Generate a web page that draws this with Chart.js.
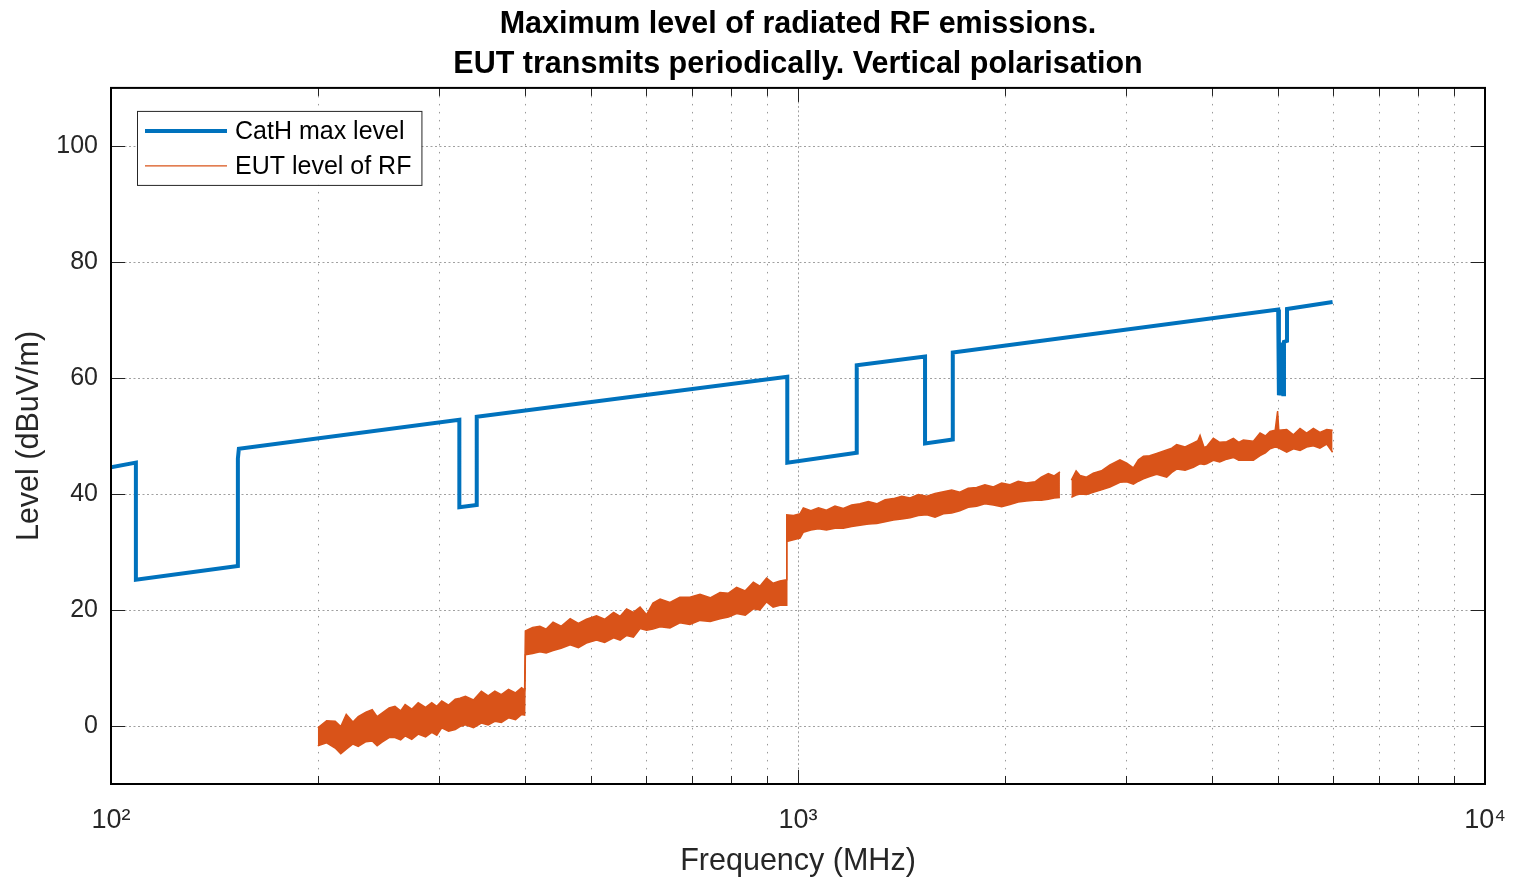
<!DOCTYPE html>
<html>
<head>
<meta charset="utf-8">
<title>Maximum level of radiated RF emissions</title>
<script src="https://cdn.jsdelivr.net/npm/chart.js@4.4.1/dist/chart.umd.min.js"></script>
<style>
    html, body { margin: 0; padding: 0; background: #fff; }
    #wrap { width: 1513px; height: 881px; }
</style>
</head>
<body>
<div id="wrap"><canvas id="chart" width="1513" height="881"></canvas></div>
<script>
// CatH max level (limit line), frequency in MHz / level in dBuV/m
const catHFreq  = [100, 108.7, 108.7, 153, 153, 153.5, 321.4, 321.4, 340.7, 340.7, 964.7, 964.7, 1217.6, 1217.6, 1530.8, 1530.8, 1680, 1680,
                   5000, 5012, 5025, 5038, 5050, 5062, 5075, 5087, 5098, 5098, 5150, 5150, 6000];
const catHLevel = [44.6, 45.4, 25.2, 27.6, 46.1, 47.8, 52.8, 37.7, 38.1, 53.3, 60.2, 45.4, 47.1, 62.2, 63.7, 48.7, 49.4, 64.4,
                   71.8, 57.0, 66.0, 57.0, 66.0, 57.1, 66.1, 57.2, 57.2, 66.2, 66.4, 71.9, 73.1];

// EUT measured level: upper / lower edge of the noisy trace (null = no measurement)
const eutFreq = [
    200, 206, 212, 216, 220, 225, 229, 235, 240, 244, 248, 254, 259, 264, 268, 274, 280, 287, 293, 298,
    303, 310, 317, 322, 328, 337, 346, 354, 362, 370, 379, 388, 396, 400,
    401, 411, 421, 430, 440, 452, 466, 479, 492, 509, 523, 539, 551, 563, 576, 589, 602, 615, 630, 651,
    673, 696, 720, 745, 770, 792, 814, 838, 861, 880, 900, 920, 941, 962,
    963, 985, 1007, 1018, 1044, 1071, 1100, 1132, 1164, 1197, 1231, 1266, 1302, 1339, 1377, 1416, 1456, 1497,
    1540, 1583, 1628, 1674, 1720, 1769, 1820, 1871, 1925, 1979, 2035, 2092, 2150, 2213, 2260, 2314, 2360, 2406,
    2450,
    2500, 2540, 2573, 2630, 2690, 2765, 2845, 2942, 3010, 3077, 3130, 3183, 3250, 3327, 3441, 3500, 3558, 3660,
    3763, 3820, 3848, 3900, 3935, 4023, 4110, 4208, 4303, 4380, 4449, 4601, 4705, 4790, 4866, 4950, 4990, 5010,
    5145, 5262, 5380, 5500, 5626, 5750, 5883, 6000
];
const eutUpper = [
    -0.3, 0.9, 0.8, -0.1, 2.0, 0.7, 1.6, 2.4, 2.8, 1.6, 2.2, 3.1, 3.4, 2.6, 3.7, 2.9, 4.0, 3.2, 4.0, 3.4,
    4.3, 3.6, 4.6, 4.8, 5.1, 4.5, 6.0, 5.2, 6.0, 5.4, 6.3, 5.7, 6.6, 6.2,
    16.4, 17.0, 17.2, 16.7, 17.9, 17.2, 18.5, 17.7, 18.4, 19.0, 18.4, 19.6, 18.9, 20.2, 19.6, 20.5, 19.2, 21.2, 21.9, 21.3,
    22.2, 22.2, 22.7, 22.1, 23.0, 22.9, 23.9, 23.3, 24.8, 24.1, 25.5, 24.6, 25.0, 25.2,
    36.4, 36.3, 36.6, 37.6, 37.1, 37.6, 37.2, 37.9, 37.5, 38.1, 38.3, 38.7, 38.3, 39.0, 39.2, 39.6, 39.3, 39.9,
    39.6, 40.1, 40.4, 40.7, 40.3, 41.0, 41.1, 41.6, 41.2, 41.9, 41.6, 42.2, 41.9, 42.1, 42.9, 43.5, 43.1, 43.8,
    null,
    42.4, 44.0, 43.2, 42.9, 43.6, 44.0, 45.0, 45.9, 45.3, 44.5, 45.9, 46.5, 46.6, 47.0, 47.6, 47.9, 48.5, 48.1,
    48.8, 49.2, 50.1, 48.0, 48.2, 49.6, 48.9, 49.0, 49.6, 48.9, 49.3, 49.1, 50.5, 50.0, 50.8, 51.0, 54.3, 51.0,
    51.1, 50.2, 51.3, 50.5, 51.3, 50.6, 51.1, 51.0
];
const eutLower = [
    -3.4, -2.9, -3.8, -4.8, -4.0, -3.1, -3.5, -2.7, -2.6, -3.4, -2.8, -2.0, -2.0, -2.4, -1.7, -2.3, -1.4, -1.9, -1.1, -1.6,
    -0.3, -0.9, -0.6, -0.1, 0.2, -0.3, 0.5, 0.2, 0.8, 0.6, 1.4, 1.1, 2.0, 1.9,
    12.3, 12.5, 12.8, 12.6, 13.0, 13.4, 14.0, 13.5, 14.3, 14.8, 14.4, 15.2, 14.8, 15.6, 15.3, 16.8, 16.5, 16.7, 17.1, 16.9,
    17.8, 17.5, 18.2, 18.0, 18.5, 18.8, 19.4, 19.1, 20.2, 20.0, 21.4, 20.5, 20.8, 20.8,
    31.8, 32.1, 32.4, 33.4, 33.8, 34.0, 33.8, 34.1, 34.1, 34.4, 34.6, 34.8, 34.9, 35.2, 35.5, 35.7, 35.9, 36.3,
    36.4, 36.0, 36.6, 36.7, 37.1, 37.7, 37.9, 38.3, 38.1, 37.8, 38.2, 38.6, 38.8, 38.9, 38.9, 39.1, 39.3, 39.4,
    null,
    39.4, 39.8, 40.0, 39.9, 40.3, 40.7, 41.2, 42.0, 42.1, 41.7, 42.2, 42.6, 43.0, 43.4, 42.9, 43.7, 44.3, 44.1,
    44.6, 45.0, 45.2, 45.1, 45.2, 45.8, 45.5, 46.0, 46.3, 45.8, 45.8, 45.8, 46.6, 47.1, 47.8, 48.1, 48.0, 47.9,
    47.2, 47.8, 47.5, 48.1, 48.3, 47.9, 48.6, 47.2
];

// axes
const xMajor = [100, 1000, 10000];
const xMinor = [200, 300, 400, 500, 600, 700, 800, 900, 2000, 3000, 4000, 5000, 6000, 7000, 8000, 9000];
const yTicks = [0, 20, 40, 60, 80, 100];
const supDigits = {2: '\u00B2', 3: '\u00B3', 4: '\u2074'};

const blue = '#0072BD';
const orange = '#D95319';
const fontFamily = '"Liberation Sans", Arial, Helvetica, sans-serif';

function toPoints(xs, ys) {
    return xs.map(function (v, i) { return {x: v, y: ys[i]}; });
}

// grid lines, box, inward ticks and the legend (drawn the matlab way)
const axesDecor = {
    id: 'axesDecor',
    beforeDatasetsDraw(chart) {
        const ctx = chart.ctx, a = chart.chartArea, x = chart.scales.x, y = chart.scales.y;
        ctx.save();
        ctx.lineWidth = 1;
        //minor x grid
        ctx.strokeStyle = '#999';
        ctx.setLineDash([1.5, 6.5]);
        xMinor.forEach(function (v) {
            let px = Math.round(x.getPixelForValue(v)) + 0.5;
            ctx.beginPath(); ctx.moveTo(px, a.top); ctx.lineTo(px, a.bottom); ctx.stroke();
        });
        //major grid
        ctx.strokeStyle = '#a0a0a0';
        ctx.setLineDash([2, 2.5]);
        xMajor.forEach(function (v) {
            let px = Math.round(x.getPixelForValue(v)) + 0.5;
            ctx.beginPath(); ctx.moveTo(px, a.top); ctx.lineTo(px, a.bottom); ctx.stroke();
        });
        yTicks.forEach(function (v) {
            let py = Math.round(y.getPixelForValue(v)) + 0.5;
            ctx.beginPath(); ctx.moveTo(a.left, py); ctx.lineTo(a.right, py); ctx.stroke();
        });
        ctx.restore();
    },
    afterDraw(chart) {
        const ctx = chart.ctx, a = chart.chartArea, x = chart.scales.x, y = chart.scales.y;
        ctx.save();
        //ticks
        ctx.strokeStyle = '#222';
        ctx.lineWidth = 1;
        const tick = function (x1, y1, x2, y2) {
            ctx.beginPath(); ctx.moveTo(x1, y1); ctx.lineTo(x2, y2); ctx.stroke();
        };
        yTicks.forEach(function (v) {
            let py = Math.round(y.getPixelForValue(v)) + 0.5;
            tick(a.left, py, a.left + 14, py);
            tick(a.right, py, a.right - 14, py);
        });
        xMajor.forEach(function (v) {
            let px = Math.round(x.getPixelForValue(v)) + 0.5;
            tick(px, a.bottom, px, a.bottom - 14);
            tick(px, a.top, px, a.top + 14);
        });
        xMinor.forEach(function (v) {
            let px = Math.round(x.getPixelForValue(v)) + 0.5;
            tick(px, a.bottom, px, a.bottom - 8);
            tick(px, a.top, px, a.top + 8);
        });
        //box
        ctx.strokeStyle = '#000';
        ctx.lineWidth = 2;
        ctx.strokeRect(a.left, a.top, a.right - a.left, a.bottom - a.top);
        //legend
        const items = [chart.data.datasets[0], chart.data.datasets[1]];
        ctx.font = '25px ' + fontFamily;
        let textW = Math.max.apply(null, items.map(function (d) { return ctx.measureText(d.label).width; }));
        let lx = a.left + 26, ly = a.top + 23;
        let lw = 100 + textW + 8, lh = 74;
        ctx.fillStyle = '#fff';
        ctx.fillRect(lx, ly, lw, lh);
        ctx.strokeStyle = '#262626';
        ctx.lineWidth = 1;
        ctx.strokeRect(lx + 0.5, ly + 0.5, lw, lh);
        items.forEach(function (d, i) {
            let cy = ly + 20 + i * 35;
            ctx.strokeStyle = d.borderColor;
            ctx.lineWidth = i === 0 ? 4 : 1.2;
            ctx.beginPath(); ctx.moveTo(lx + 8, cy); ctx.lineTo(lx + 90, cy); ctx.stroke();
            ctx.fillStyle = '#000';
            ctx.textBaseline = 'middle';
            ctx.fillText(d.label, lx + 98, cy + 1);
        });
        ctx.restore();
    }
};

let ctx = document.getElementById('chart');
let myChart = new Chart(ctx, {
    type: 'line',
    data: {
        datasets: [{
            label: 'CatH max level',
            data: toPoints(catHFreq, catHLevel),
            borderColor: blue,
            borderWidth: 4,
            pointRadius: 0,
            fill: false
        }, {
            label: 'EUT level of RF',
            data: toPoints(eutFreq, eutUpper),
            borderColor: orange,
            backgroundColor: orange,
            borderWidth: 1.5,
            pointRadius: 0,
            spanGaps: false,
            fill: '+1'
        }, {
            label: 'EUT level of RF (lower)',
            data: toPoints(eutFreq, eutLower),
            borderColor: orange,
            borderWidth: 1.5,
            pointRadius: 0,
            spanGaps: false,
            fill: false
        }]
    },
    options: {
        responsive: false,
        animation: false,
        devicePixelRatio: 1,
        layout: {padding: {left: 0, right: 28, top: 0, bottom: 0}},
        plugins: {
            legend: {display: false},
            tooltip: {enabled: false},
            title: {
                display: true,
                fullSize: false,
                text: ['Maximum level of radiated RF emissions.', 'EUT transmits periodically. Vertical polarisation'],
                color: '#000',
                font: {family: fontFamily, size: 30.5, weight: 'bold', lineHeight: 1.31},
                padding: {top: 5, bottom: 3}
            }
        },
        scales: {
            x: {
                type: 'logarithmic',
                min: 100,
                max: 10000,
                grid: {display: false, drawTicks: false},
                border: {display: false},
                afterBuildTicks: function (scale) {
                    scale.ticks = xMajor.map(function (v) { return {value: v, major: true}; });
                },
                afterFit: function (scale) {
                    scale.height = 97;
                    scale.paddingLeft = 0;
                    scale.paddingRight = 0;
                },
                ticks: {
                    autoSkip: false,
                    maxRotation: 0,
                    color: '#262626',
                    padding: 20,
                    font: {family: fontFamily, size: 27},
                    callback: function (value) {
                        return '10' + supDigits[Math.round(Math.log10(value))];
                    }
                },
                title: {
                    display: true,
                    text: 'Frequency (MHz)',
                    color: '#262626',
                    font: {family: fontFamily, size: 30.5},
                    padding: {top: 0, bottom: 1}
                }
            },
            y: {
                min: -10,
                max: 110,
                grid: {display: false, drawTicks: false},
                border: {display: false},
                afterBuildTicks: function (scale) {
                    scale.ticks = yTicks.map(function (v) { return {value: v}; });
                },
                afterFit: function (scale) { scale.width = 111; },
                ticks: {
                    color: '#262626',
                    padding: 13,
                    font: {family: fontFamily, size: 25}
                },
                title: {
                    display: true,
                    text: 'Level (dBuV/m)',
                    color: '#262626',
                    font: {family: fontFamily, size: 30.5},
                    padding: {top: 11, bottom: 0}
                }
            }
        }
    },
    plugins: [axesDecor]
});
</script>
</body>
</html>
